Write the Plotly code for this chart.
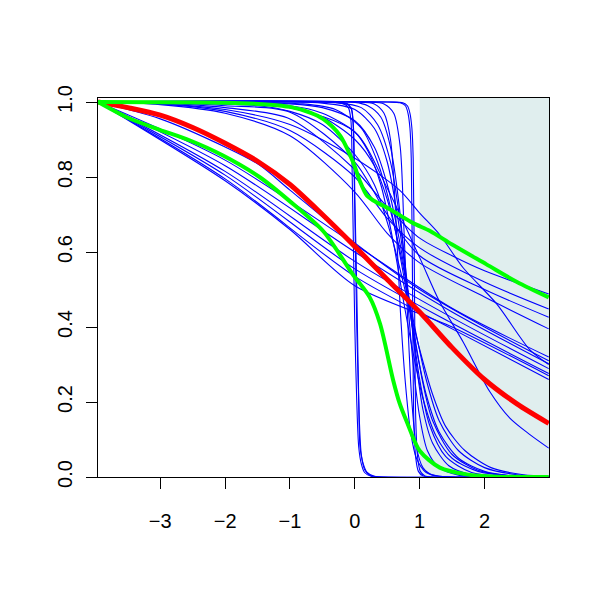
import plotly.graph_objects as go

# ---------------- axes / ticks ----------------
x_range = [-3.96, 2.994]
y_range = [0.0, 1.0107]
x_ticks = [-3, -2, -1, 0, 1, 2]
x_tick_labels = ["\u22123", "\u22122", "\u22121", "0", "1", "2"]
y_ticks = [0.0, 0.2, 0.4, 0.6, 0.8, 1.0]
y_tick_labels = ["0.0", "0.2", "0.4", "0.6", "0.8", "1.0"]
shade_start = 1.0

# ---------------- thick summary curves ----------------
red_pts = [(-3.96, 1.0), (-3.5, 0.985), (-3.0, 0.965), (-2.5, 0.932), (-2.0, 0.89),
           (-1.5, 0.842), (-1.0, 0.78), (-0.5, 0.70), (0.0, 0.615), (0.5, 0.527),
           (1.0, 0.44), (1.5, 0.345), (2.0, 0.26), (2.5, 0.195), (2.99, 0.143)]

green_hi_pts = [(-3.96, 1.0), (-2.0, 0.998), (-1.3, 0.993), (-1.0, 0.987), (-0.69, 0.972),
                (-0.49, 0.955), (-0.23, 0.911), (-0.03, 0.841), (0.08, 0.788), (0.18, 0.752),
                (0.28, 0.738), (0.54, 0.714), (0.9, 0.677), (1.16, 0.656), (1.5, 0.62),
                (2.03, 0.567), (2.5, 0.52), (2.99, 0.479)]

green_lo_pts = [(-3.96, 1.0), (-3.5, 0.958), (-3.01, 0.926), (-2.55, 0.898), (-2.04, 0.858),
                (-1.47, 0.80), (-1.0, 0.735), (-0.49, 0.656), (-0.03, 0.54), (0.23, 0.479),
                (0.39, 0.408), (0.59, 0.259), (0.69, 0.197), (0.8, 0.148), (1.0, 0.07),
                (1.31, 0.025), (1.72, 0.007), (2.2, 0.001), (2.99, 0.0)]

# ---------------- thin blue sample curves ----------------
# near-straight bundle from the top-left corner
blue_la = [(-3.96, 1), (-2, 0.845), (0, 0.62), (1.5, 0.45), (2.99, 0.32)]
blue_lb = [(-3.96, 1), (-2, 0.83), (0, 0.60), (1.5, 0.44), (2.99, 0.302)]
blue_lc = [(-3.96, 1), (-2, 0.815), (0, 0.575), (1.5, 0.425), (2.99, 0.289)]
blue_ld = [(-3.96, 1), (-2, 0.805), (0, 0.555), (1.5, 0.41), (2.99, 0.276)]
blue_le = [(-3.96, 1), (-2, 0.795), (0, 0.535), (1.5, 0.395), (2.99, 0.26)]
blue_lf = [(-3.96, 1), (-3, 0.955), (-2, 0.88), (-1.47, 0.832), (-1, 0.765), (0, 0.624), (1, 0.50), (2, 0.40), (2.99, 0.31)]
blue_lg = [(-3.96, 1), (-2, 0.79), (-1, 0.66), (0, 0.51), (1.5, 0.40), (2.99, 0.27)]

# curves that stay high and bend down slowly
blue_u1 = [(-3.96, 1), (-3, 0.995), (-2, 0.98), (-1, 0.94), (0, 0.85), (0.69, 0.765), (1.0, 0.704),
           (1.31, 0.646), (1.67, 0.558), (2.19, 0.461), (2.7, 0.339), (2.99, 0.30)]
blue_u2 = [(-3.96, 1), (-3, 0.997), (-2, 0.985), (-1, 0.955), (0, 0.82), (0.5, 0.72), (1.0, 0.637),
           (1.5, 0.59), (2.0, 0.55), (2.99, 0.488)]
blue_u3 = [(-3.96, 1), (-3, 0.995), (-2, 0.975), (-1, 0.924), (0, 0.80), (0.5, 0.69), (1, 0.611),
           (2, 0.52), (2.99, 0.448)]
blue_u4 = [(-3.96, 1), (-3, 0.998), (-2, 0.99), (-1, 0.973), (0, 0.84), (0.5, 0.70), (1, 0.59),
           (2, 0.50), (2.99, 0.426)]
blue_u5 = [(-3.96, 1), (-3, 0.993), (-2, 0.97), (-1, 0.91), (0, 0.76), (0.5, 0.65), (1, 0.571),
           (2, 0.48), (2.99, 0.395)]
blue_t1 = [(-3.96, 1), (-3, 0.999), (-2, 0.995), (-1, 0.985), (0, 0.92), (0.5, 0.77), (1.0, 0.585),
           (1.3, 0.47), (1.67, 0.36), (2.08, 0.228), (2.39, 0.157), (2.7, 0.113), (2.99, 0.077)]

# fan of curves that drop to zero between x = 0.5 and 2
blue_f1 = [(-3.96, 1), (-1.5, 0.995), (-1, 0.985), (-0.5, 0.96), (0, 0.90), (0.3, 0.83), (0.5, 0.74),
           (0.7, 0.60), (0.9, 0.42), (1.1, 0.26), (1.3, 0.15), (1.6, 0.07), (2.0, 0.025), (2.5, 0.006), (2.99, 0.001)]
blue_f2 = [(-3.96, 1), (-1, 0.995), (-0.5, 0.985), (0, 0.95), (0.3, 0.88), (0.5, 0.78), (0.7, 0.62),
           (0.9, 0.40), (1.05, 0.25), (1.2, 0.15), (1.5, 0.06), (1.9, 0.018), (2.4, 0.003), (2.99, 0)]
blue_f3 = [(-3.96, 1), (-0.5, 0.997), (0, 0.98), (0.3, 0.93), (0.5, 0.84), (0.7, 0.65), (0.85, 0.45),
           (1.0, 0.26), (1.15, 0.14), (1.4, 0.055), (1.8, 0.012), (2.3, 0.002), (2.99, 0)]
blue_f4 = [(-3.96, 1), (-0.3, 0.998), (0.1, 0.985), (0.35, 0.94), (0.55, 0.84), (0.7, 0.68), (0.85, 0.45),
           (0.95, 0.3), (1.05, 0.18), (1.2, 0.09), (1.45, 0.03), (1.8, 0.006), (2.3, 0), (2.99, 0)]
blue_f5 = [(-3.96, 1), (0, 0.999), (0.2, 0.99), (0.4, 0.96), (0.55, 0.88), (0.7, 0.70), (0.8, 0.5),
           (0.9, 0.3), (1.0, 0.16), (1.12, 0.07), (1.3, 0.025), (1.6, 0.005), (2.0, 0), (2.99, 0)]
blue_f6 = [(-3.96, 1), (-1, 0.99), (-0.5, 0.97), (0, 0.92), (0.2, 0.87), (0.4, 0.78), (0.6, 0.62),
           (0.75, 0.47), (0.9, 0.33), (1.05, 0.21), (1.25, 0.11), (1.5, 0.05), (1.9, 0.015), (2.4, 0.003), (2.99, 0)]
blue_f7 = [(-3.96, 1), (-1.5, 0.99), (-1, 0.975), (-0.5, 0.94), (0, 0.86), (0.3, 0.78), (0.6, 0.62),
           (0.8, 0.48), (1.0, 0.34), (1.2, 0.22), (1.4, 0.135), (1.7, 0.07), (2.1, 0.025), (2.6, 0.006), (2.99, 0.002)]
blue_f8 = [(-3.96, 1), (-0.8, 0.995), (-0.3, 0.98), (0.1, 0.93), (0.35, 0.84), (0.55, 0.72), (0.75, 0.54),
           (0.95, 0.34), (1.1, 0.22), (1.3, 0.12), (1.6, 0.05), (2.0, 0.015), (2.5, 0.002), (2.99, 0)]
blue_f9 = [(-3.96, 1), (0, 1), (0.3, 0.995), (0.45, 0.97), (0.55, 0.9), (0.63, 0.7), (0.7, 0.45),
           (0.78, 0.25), (0.86, 0.12), (0.95, 0.05), (1.1, 0.012), (1.3, 0.002), (2, 0), (2.99, 0)]
blue_f10 = [(-3.96, 1), (0.2, 1), (0.45, 0.995), (0.6, 0.97), (0.7, 0.88), (0.76, 0.65), (0.82, 0.4),
            (0.88, 0.2), (0.95, 0.08), (1.05, 0.025), (1.2, 0.005), (1.5, 0), (2.99, 0)]

# near-vertical drops at x ~ 0 and x ~ 0.9
blue_s1a = [(-3.96, 1), (-0.5, 1), (-0.2, 0.997), (-0.1, 0.985), (-0.06, 0.95), (-0.04, 0.8), (-0.02, 0.6),
            (0.0, 0.4), (0.03, 0.2), (0.06, 0.08), (0.1, 0.035), (0.15, 0.012), (0.25, 0.002), (0.35, 0), (2.99, 0)]
blue_s1b = [(-3.96, 1), (-0.4, 1), (-0.15, 0.997), (-0.06, 0.985), (-0.03, 0.95), (-0.01, 0.8), (0.01, 0.6),
            (0.03, 0.4), (0.06, 0.2), (0.08, 0.08), (0.13, 0.035), (0.19, 0.012), (0.3, 0.002), (0.42, 0), (2.99, 0)]
blue_s1c = [(-3.96, 1), (-0.3, 1), (-0.12, 0.996), (-0.05, 0.98), (-0.02, 0.93), (0.0, 0.75), (0.03, 0.5),
            (0.05, 0.3), (0.07, 0.15), (0.1, 0.06), (0.15, 0.02), (0.22, 0.006), (0.33, 0.001), (0.45, 0), (2.99, 0)]
blue_s2a = [(-3.96, 1), (0.5, 1), (0.7, 0.998), (0.78, 0.99), (0.82, 0.97), (0.85, 0.93), (0.87, 0.85),
            (0.89, 0.5), (0.91, 0.15), (0.94, 0.05), (0.98, 0.015), (1.05, 0.003), (1.15, 0), (2.99, 0)]
blue_s2b = [(-3.96, 1), (0.55, 1), (0.74, 0.998), (0.81, 0.99), (0.85, 0.97), (0.88, 0.93), (0.9, 0.85),
            (0.92, 0.5), (0.94, 0.15), (0.97, 0.05), (1.01, 0.015), (1.08, 0.003), (1.18, 0), (2.99, 0)]

blue_curves = [blue_la, blue_lb, blue_lc, blue_ld, blue_le, blue_lg, blue_lf,
               blue_u1, blue_u2, blue_u3, blue_u4, blue_u5, blue_t1,
               blue_f1, blue_f2, blue_f3, blue_f4, blue_f5, blue_f6, blue_f7, blue_f8, blue_f9, blue_f10,
               blue_s1a, blue_s1b, blue_s1c, blue_s2a, blue_s2b]

BLUE = "#0000FF"
RED = "#FF0000"
GREEN = "#00FF00"
SHADE = "#E0EEEE"
FONT = "Liberation Sans, Arial, sans-serif"

fig = go.Figure()


def add_curve(pts, color, width):
    xs = [p[0] for p in pts]
    ys = [p[1] for p in pts]
    fig.add_trace(go.Scatter(x=xs, y=ys, mode="lines",
                             line=dict(color=color, width=width, shape="spline", smoothing=0.8),
                             hoverinfo="skip", showlegend=False))


for c in blue_curves:
    add_curve(c, BLUE, 1.1)

add_curve(red_pts, RED, 5)
add_curve(green_hi_pts, GREEN, 4)
add_curve(green_lo_pts, GREEN, 4)

fig.add_shape(type="rect", xref="x", yref="y", x0=shade_start, x1=x_range[1], y0=y_range[0], y1=y_range[1],
              fillcolor=SHADE, line=dict(width=0), layer="below")

axis_common = dict(showgrid=False, zeroline=False, showline=True, linecolor="black", linewidth=1,
                   mirror=True, ticks="outside", ticklen=11, tickwidth=1, tickcolor="black",
                   layer="below traces",
                   tickfont=dict(family=FONT, size=20, color="black"))

# the page body adds an 8 px offset, so margins are reduced accordingly
fig.update_layout(
    width=600, height=600,
    paper_bgcolor="white", plot_bgcolor="white",
    margin=dict(l=90, r=59, t=90, b=131),
    showlegend=False,
    xaxis=dict(range=x_range, tickmode="array", tickvals=x_ticks, ticktext=x_tick_labels,
               ticklabelstandoff=15, **axis_common),
    yaxis=dict(range=y_range, tickmode="array", tickvals=y_ticks, ticktext=y_tick_labels,
               tickangle=-90, ticklabelstandoff=6, **axis_common),
)

fig.write_html("out.html")
